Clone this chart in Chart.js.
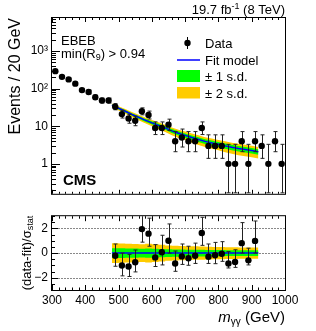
<!DOCTYPE html>
<html>
<head>
<meta charset="utf-8">
<script src="https://cdn.jsdelivr.net/npm/chart.js@4.4.0/dist/chart.umd.min.js"></script>
<style>
html, body { margin: 0; padding: 0; background: #fff; }
#wrap { position: relative; width: 316px; height: 331px; }
canvas { position: absolute; left: 0; }
#top { top: 0; }
#bot { top: 205px; }
</style>
</head>
<body>
<div id="wrap">
<canvas id="top" width="316" height="205"></canvas>
<canvas id="bot" width="316" height="126"></canvas>
</div>
<script>
const FONT = '"Liberation Sans", Arial, Helvetica, sans-serif';
Chart.defaults.font.family = FONT;
Chart.defaults.color = '#000';

// data, 20 GeV bins
const massBins = [310, 330, 350, 370, 390, 410, 430, 450, 470, 490, 510, 530, 550, 570, 590, 610, 630, 650,
    670, 690, 710, 730, 750, 770, 790, 810, 830, 850, 870, 890, 910, 930, 950, 970, 990];
const counts = [290, 205, 175, 135, 91, 81, 59, 48, 48, 33, 21, 16, 14, 25, 20, 9, 9, 11,
    4, 5, 4, 4, 9, 3, 3, 3, 1, 1, 4, 1, 4, 3, 1, 4, 1];
const countLow = [273, 191, 162, 124, 81.5, 72, 51.5, 41.3, 41.3, 27.3, 16.5, 12, 10.3, 20.1, 15.6, 6, 6, 7.7,
    2.1, 2.8, 2.1, 2.1, 6, 1.4, 1.4, 1.4, 0.17, 0.17, 2.1, 0.17, 2.1, 1.4, 0.17, 2.1, 0.17];
const countHigh = [307, 220, 189, 147, 101, 91, 67, 55.9, 55.9, 39.8, 26.3, 20.6, 18.4, 30.7, 25.2, 13, 13, 15.4,
    7.2, 8.4, 7.2, 7.2, 13, 5.9, 5.9, 5.9, 3.3, 3.3, 7.2, 3.3, 7.2, 5.9, 3.3, 7.2, 3.3];

// fit model and uncertainty bands
const fitMass = [480, 500, 520, 540, 560, 580, 600, 620, 640, 660, 680, 700, 720, 740, 760, 780, 800, 820, 840, 860, 880, 900, 920];
const fitValue = [36, 30, 25, 20.5, 17.3, 14.5, 12.3, 10.5, 9.0, 7.5, 6.5, 5.7, 5.0, 4.45, 3.95, 3.6, 3.3, 3.0, 2.75, 2.55, 2.4, 2.25, 2.1];
const band1Low = [33.8, 28, 23.2, 18.9, 15.85, 13.2, 11.1, 9.42, 8.02, 6.62, 5.7, 4.96, 4.32, 3.82, 3.37, 3.05, 2.79, 2.52, 2.3, 2.12, 2.0, 1.87, 1.74];
const band1High = [38.2, 32, 26.8, 22.1, 18.75, 15.8, 13.5, 11.58, 9.98, 8.38, 7.3, 6.44, 5.68, 5.08, 4.53, 4.15, 3.81, 3.48, 3.2, 2.98, 2.8, 2.63, 2.46];
const band2Low = [31.6, 26, 21.4, 17.3, 14.4, 11.9, 9.9, 8.35, 7.04, 5.74, 4.89, 4.22, 3.64, 3.19, 2.79, 2.51, 2.28, 2.04, 1.85, 1.7, 1.59, 1.49, 1.38];
const band2High = [40.4, 34, 28.6, 23.7, 20.2, 17.1, 14.7, 12.65, 10.96, 9.26, 8.11, 7.18, 6.36, 5.71, 5.11, 4.69, 4.32, 3.96, 3.65, 3.4, 3.21, 3.01, 2.82];

// pulls
const pullMass = [490, 510, 530, 550, 570, 590, 610, 630, 650, 670, 690, 710, 730, 750, 770, 790, 810, 830, 850, 870, 890, 910];
const pull = [-0.22, -1.01, -1.09, -0.74, 1.95, 1.58, -0.35, 0.07, 1.01, -0.84, -0.27, -0.42, -0.22, 1.63, -0.30, -0.18, -0.05, -0.84, -0.72, 0.81, -0.59, 0.99];
const pullLow = [-1.07, -1.85, -1.9, -1.53, 0.89, 0.56, -1.09, -0.96, 0, -1.48, -0.92, -0.99, -0.84, 0.63, -0.84, -0.86, -0.67, -1.21, -1.16, 0, -0.96, 0];
const pullHigh = [0.74, 0, -0.1, 0.25, 3.2, 2.84, 0.69, 1.45, 2.37, 0.17, 0.74, 0.56, 0.81, 2.91, 0.74, 0.87, 0.93, 0.12, 0.27, 2.48, 0.4, 2.61];
const pullBand1 = [0.4, 0.4, 0.39, 0.38, 0.37, 0.36, 0.38, 0.36, 0.34, 0.31, 0.3, 0.29, 0.28, 0.28, 0.27, 0.26, 0.25, 0.25, 0.24, 0.24, 0.23, 0.23, 0.23];
const pullBand2 = [0.8, 0.8, 0.78, 0.76, 0.74, 0.72, 0.76, 0.72, 0.68, 0.62, 0.6, 0.58, 0.56, 0.55, 0.54, 0.52, 0.5, 0.5, 0.48, 0.47, 0.46, 0.45, 0.45];

const xTicks = [300, 400, 500, 600, 700, 800, 900, 1000];

const GREEN = '#00ff00', YELLOW = '#ffcc00', BLUE = '#0000ff';

function pts(xs, ys) { return xs.map((x, i) => ({x: x, y: ys[i]})); }

// chart.js draws dataset 0 last, so points go first and bands last
function errorBars(dataIndex, xs, lo, hi) {
    return {
        id: 'errbars',
        beforeDatasetDraw(chart, args) {
            if (args.index !== dataIndex) return;
            const {ctx, chartArea: a, scales: {x, y}} = chart;
            ctx.save();
            ctx.beginPath();
            ctx.rect(a.left, a.top, a.right - a.left, a.bottom - a.top);
            ctx.clip();
            ctx.strokeStyle = '#222';
            ctx.lineWidth = 1;
            xs.forEach((m, i) => {
                const px = Math.round(x.getPixelForValue(m)) + 0.5;
                const y1 = y.getPixelForValue(lo[i]), y2 = y.getPixelForValue(hi[i]);
                ctx.beginPath();
                ctx.moveTo(px, y1); ctx.lineTo(px, y2);
                ctx.moveTo(px - 2, y1); ctx.lineTo(px + 2, y1);
                ctx.moveTo(px - 2, y2); ctx.lineTo(px + 2, y2);
                ctx.stroke();
            });
            ctx.restore();
        }
    };
}

function drawXTicks(ctx, a, x, major, minor) {
    for (let v = 300; v <= 1000; v += 20) {
        const px = Math.round(x.getPixelForValue(v)) + 0.5;
        const len = v % 100 === 0 ? major : minor;
        ctx.beginPath();
        ctx.moveTo(px, a.bottom); ctx.lineTo(px, a.bottom - len);
        ctx.moveTo(px, a.top); ctx.lineTo(px, a.top + len);
        ctx.stroke();
    }
}

function frame(ctx, a) {
    ctx.strokeRect(a.left - 0.5, a.top - 0.5, a.right - a.left + 1, a.bottom - a.top + 1);
}

const topDecor = {
    id: 'topDecor',
    afterDraw(chart) {
        const {ctx, chartArea: a, scales: {x, y}} = chart;
        ctx.save();
        ctx.strokeStyle = '#000';
        ctx.lineWidth = 1;
        frame(ctx, a);
        drawXTicks(ctx, a, x, 4, 2);
        for (let d = -1; d <= 3; d++) {
            for (let k = 1; k <= 9; k++) {
                const v = k * Math.pow(10, d);
                if (v < y.min || v > y.max) continue;
                const py = Math.round(y.getPixelForValue(v)) + 0.5;
                ctx.beginPath();
                ctx.moveTo(a.left, py); ctx.lineTo(a.left + (k === 1 ? 8 : 4), py);
                ctx.stroke();
            }
        }
        ctx.fillStyle = '#000';
        // lumi
        ctx.textBaseline = 'alphabetic';
        ctx.textAlign = 'left';
        const t1 = '19.7 fb', t2 = '-1', t3 = ' (8 TeV)';
        ctx.font = '13px ' + FONT; const w1 = ctx.measureText(t1).width, w3 = ctx.measureText(t3).width;
        ctx.font = '9px ' + FONT; const w2 = ctx.measureText(t2).width;
        let sx = a.right - (w1 + w2 + w3);
        ctx.font = '13px ' + FONT; ctx.fillText(t1, sx, 14);
        ctx.font = '9px ' + FONT; ctx.fillText(t2, sx + w1, 9);
        ctx.font = '13px ' + FONT; ctx.fillText(t3, sx + w1 + w2, 14);
        // category
        ctx.fillText('EBEB', 61, 45);
        const s1 = 'min(R';
        ctx.fillText(s1, 61, 58);
        const ws1 = ctx.measureText(s1).width;
        ctx.font = '9px ' + FONT; ctx.fillText('9', 61 + ws1, 60);
        const ws2 = ctx.measureText('9').width;
        ctx.font = '13px ' + FONT; ctx.fillText(') > 0.94', 61 + ws1 + ws2, 58);
        ctx.font = 'bold 15px ' + FONT;
        ctx.fillText('CMS', 63, 185);
        // legend
        ctx.font = '13px ' + FONT;
        ctx.beginPath();
        ctx.moveTo(187.5, 37); ctx.lineTo(187.5, 49); ctx.stroke();
        ctx.beginPath(); ctx.arc(187.5, 43, 3.2, 0, Math.PI * 2); ctx.fill();
        ctx.fillText('Data', 205, 47.5);
        ctx.strokeStyle = BLUE; ctx.lineWidth = 1.5;
        ctx.beginPath(); ctx.moveTo(177, 60); ctx.lineTo(200, 60); ctx.stroke();
        ctx.fillText('Fit model', 205, 64.5);
        ctx.fillStyle = GREEN; ctx.fillRect(177, 70, 23, 12);
        ctx.fillStyle = YELLOW; ctx.fillRect(177, 87, 23, 11.5);
        ctx.fillStyle = '#000';
        ctx.fillText('\u00b1 1 s.d.', 205, 80.5);
        ctx.fillText('\u00b1 2 s.d.', 205, 97.5);
        // y title
        ctx.save();
        ctx.translate(16, 18);
        ctx.rotate(-Math.PI / 2);
        ctx.font = '16px ' + FONT;
        ctx.textAlign = 'right';
        ctx.textBaseline = 'middle';
        ctx.fillText('Events / 20 GeV', 0, 0);
        ctx.restore();
        ctx.restore();
    }
};

const botDecor = {
    id: 'botDecor',
    beforeDatasetsDraw(chart) {
        const {ctx, chartArea: a, scales: {y}} = chart;
        ctx.save();
        ctx.strokeStyle = '#888';
        ctx.lineWidth = 1;
        ctx.setLineDash([2, 1]);
        [-2, 0, 2].forEach(v => {
            const py = Math.round(y.getPixelForValue(v)) + 0.5;
            ctx.beginPath(); ctx.moveTo(a.left, py); ctx.lineTo(a.right, py); ctx.stroke();
        });
        ctx.restore();
    },
    afterDraw(chart) {
        const {ctx, chartArea: a, scales: {x, y}} = chart;
        ctx.save();
        ctx.strokeStyle = '#000';
        ctx.lineWidth = 1;
        frame(ctx, a);
        drawXTicks(ctx, a, x, 5, 2.5);
        for (let v = -3; v <= 3; v += 0.5) {
            const py = Math.round(y.getPixelForValue(v)) + 0.5;
            const major = v === -2 || v === 0 || v === 2;
            ctx.beginPath(); ctx.moveTo(a.left, py); ctx.lineTo(a.left + (major ? 6 : 3), py); ctx.stroke();
        }
        ctx.fillStyle = '#000';
        // x title
        ctx.textBaseline = 'alphabetic';
        ctx.textAlign = 'left';
        const base = 117;
        ctx.font = '15px ' + FONT; const wg = ctx.measureText(' (GeV)').width;
        ctx.font = '10px ' + FONT; const wsub = ctx.measureText('\u03b3\u03b3').width;
        ctx.font = 'italic 15px ' + FONT; const wm = ctx.measureText('m').width;
        let sx = a.right - wg - wsub - wm;
        ctx.fillText('m', sx, base);
        ctx.font = '10px ' + FONT; ctx.fillText('\u03b3\u03b3', sx + wm, base + 3);
        ctx.font = '15px ' + FONT; ctx.fillText(' (GeV)', sx + wm + wsub, base);
        // y title
        ctx.save();
        ctx.translate(27, (a.top + a.bottom) / 2);
        ctx.rotate(-Math.PI / 2);
        ctx.textBaseline = 'middle';
        ctx.font = '13px ' + FONT; const wa = ctx.measureText('(data-fit)/\u03c3').width;
        ctx.font = '9px ' + FONT; const wb = ctx.measureText('stat').width;
        const st = -(wa + wb) / 2;
        ctx.font = '13px ' + FONT; ctx.fillText('(data-fit)/\u03c3', st, 0);
        ctx.font = '9px ' + FONT; ctx.fillText('stat', st + wa, 4);
        ctx.restore();
        ctx.restore();
    }
};

const topChart = new Chart(document.getElementById('top'), {
    type: 'line',
    data: {
        datasets: [
            {data: pts(massBins, counts), showLine: false, pointRadius: 3.2, pointBackgroundColor: '#000', pointBorderWidth: 0},
            {data: pts(fitMass, fitValue), borderColor: BLUE, borderWidth: 1.5, pointRadius: 0, fill: false},
            {data: pts(fitMass, band1High), borderWidth: 0, pointRadius: 0, fill: false},
            {data: pts(fitMass, band1Low), borderWidth: 0, pointRadius: 0, fill: '-1', backgroundColor: GREEN},
            {data: pts(fitMass, band2High), borderWidth: 0, pointRadius: 0, fill: false},
            {data: pts(fitMass, band2Low), borderWidth: 0, pointRadius: 0, fill: '-1', backgroundColor: YELLOW}
        ]
    },
    options: {
        responsive: false,
        animation: false,
        events: [],
        layout: {padding: {left: 0, right: 31, top: 18, bottom: 2}},
        plugins: {legend: {display: false}, tooltip: {enabled: false}},
        scales: {
            x: {type: 'linear', min: 300, max: 1000, display: false},
            y: {
                type: 'logarithmic', min: 0.16, max: 7500,
                grid: {display: false, drawTicks: false},
                border: {display: false},
                afterFit(s) { s.width = 52; },
                afterBuildTicks(s) { s.ticks = [1, 10, 100, 1000].map(v => ({value: v})); },
                ticks: {
                    autoSkip: false, padding: 4, font: {size: 12}, color: '#000',
                    callback: v => ({1: '1', 10: '10', 100: '10\u00b2', 1000: '10\u00b3'})[v]
                }
            }
        }
    },
    plugins: [errorBars(0, massBins, countLow, countHigh), topDecor]
});

const botChart = new Chart(document.getElementById('bot'), {
    type: 'line',
    data: {
        datasets: [
            {data: pts(pullMass, pull), showLine: false, pointRadius: 3.2, pointBackgroundColor: '#000', pointBorderWidth: 0},
            {data: pts(fitMass, fitMass.map(() => 0)), borderColor: BLUE, borderWidth: 1.5, pointRadius: 0, fill: false},
            {data: pts(fitMass, pullBand1), borderWidth: 0, pointRadius: 0, stepped: 'after', fill: false},
            {data: pts(fitMass, pullBand1.map(v => -v)), borderWidth: 0, pointRadius: 0, stepped: 'after', fill: '-1', backgroundColor: GREEN},
            {data: pts(fitMass, pullBand2), borderWidth: 0, pointRadius: 0, stepped: 'after', fill: false},
            {data: pts(fitMass, pullBand2.map(v => -v)), borderWidth: 0, pointRadius: 0, stepped: 'after', fill: '-1', backgroundColor: YELLOW}
        ]
    },
    options: {
        responsive: false,
        animation: false,
        events: [],
        layout: {padding: {left: 0, right: 31, top: 4, bottom: 0}},
        plugins: {legend: {display: false}, tooltip: {enabled: false}},
        scales: {
            x: {
                type: 'linear', min: 300, max: 1000,
                grid: {display: false, drawTicks: false},
                border: {display: false},
                afterFit(s) { s.height = 41; },
                afterBuildTicks(s) { s.ticks = xTicks.map(v => ({value: v})); },
                ticks: {autoSkip: false, maxRotation: 0, padding: 3, font: {size: 12}, color: '#000', callback: v => String(v)}
            },
            y: {
                type: 'linear', min: -3, max: 3,
                grid: {display: false, drawTicks: false},
                border: {display: false},
                afterFit(s) { s.width = 52; },
                afterBuildTicks(s) { s.ticks = [-2, 0, 2].map(v => ({value: v})); },
                ticks: {
                    autoSkip: false, padding: 4, font: {size: 12}, color: '#000',
                    callback: v => v < 0 ? '\u2212' + Math.abs(v) : String(v)
                }
            }
        }
    },
    plugins: [errorBars(0, pullMass, pullLow, pullHigh), botDecor]
});
</script>
</body>
</html>
